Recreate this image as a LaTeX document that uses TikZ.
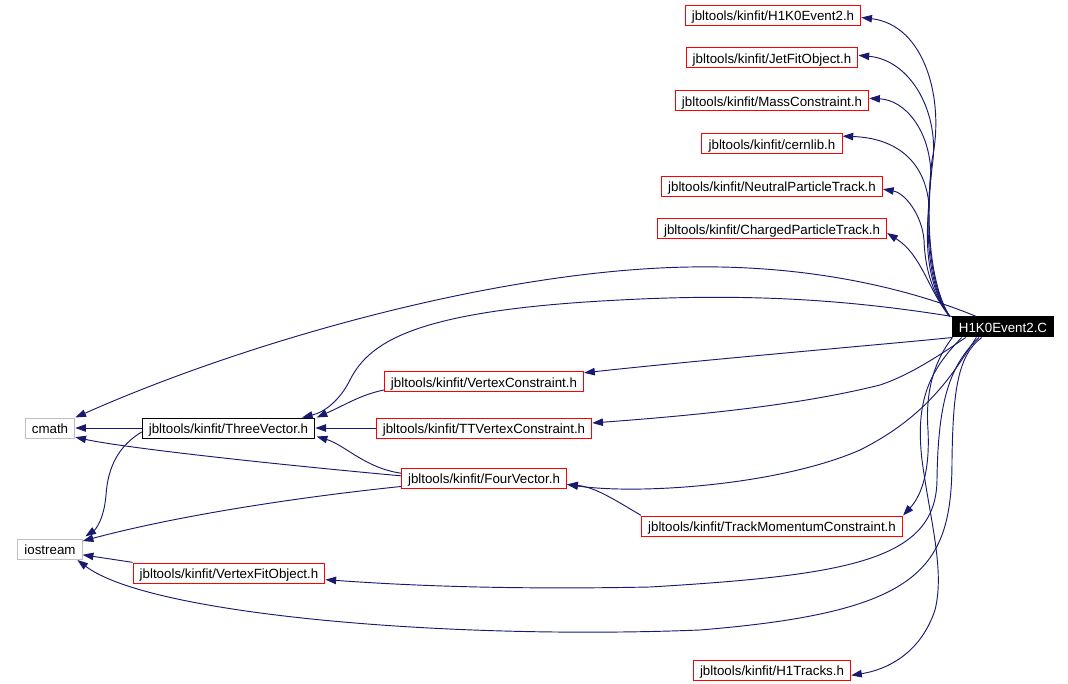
\documentclass[tikz,border=0pt]{standalone}
\usepackage{fontspec}
\setmainfont{Liberation Sans}
\usetikzlibrary{arrows.meta}
\definecolor{edgeblue}{HTML}{191970}
\definecolor{boxgray}{HTML}{BFBFBF}
\definecolor{boxred}{HTML}{FF0000}
\begin{document}
\begin{tikzpicture}[x=0.75pt,y=-0.75pt,
  base/.style={line width=0.75pt,inner xsep=5pt,inner ysep=0pt,minimum height=15pt,
    font=\fontsize{10}{12}\selectfont,text height=9.6pt,text depth=1.4pt},
  redbox/.style={base,draw=boxred},
  blackbox/.style={base,draw=black},
  graybox/.style={base,draw=boxgray},
  rootbox/.style={base,fill=black,draw=black,text=white,inner xsep=4.5pt},
  e/.style={draw=edgeblue,line width=0.7pt,-{Triangle[length=8pt,width=5.6pt]}}]
\useasboundingbox[fill=white] (0,0) rectangle (1068,684);

% nodes
\node[redbox]   (h1)      at (773,15.5)  {jbltools/kinfit/H1K0Event2.h};
\node[redbox]   (jet)     at (772,58)    {jbltools/kinfit/JetFitObject.h};
\node[redbox]   (mass)    at (772,101)   {jbltools/kinfit/MassConstraint.h};
\node[redbox]   (cern)    at (772,144)   {jbltools/kinfit/cernlib.h};
\node[redbox]   (neutral) at (772,186.5) {jbltools/kinfit/NeutralParticleTrack.h};
\node[redbox]   (charged) at (772,229)   {jbltools/kinfit/ChargedParticleTrack.h};
\node[rootbox]  (C)       at (1003,327)  {H1K0Event2.C};
\node[redbox]   (vc)      at (484,382)   {jbltools/kinfit/VertexConstraint.h};
\node[redbox]   (tt)      at (484,428)   {jbltools/kinfit/TTVertexConstraint.h};
\node[blackbox] (tv)      at (228.5,428) {jbltools/kinfit/ThreeVector.h};
\node[graybox]  (cmath)   at (50,428)    {cmath};
\node[redbox]   (fv)      at (484,478.5) {jbltools/kinfit/FourVector.h};
\node[graybox]  (iostream) at (50,549.5) {iostream};
\node[redbox]   (vfo)     at (229,573)   {jbltools/kinfit/VertexFitObject.h};
\node[redbox]   (tmc)     at (772,526)   {jbltools/kinfit/TrackMomentumConstraint.h};
\node[redbox]   (h1t)     at (772,670)   {jbltools/kinfit/H1Tracks.h};

% edges from H1K0Event2.C, upper bundle
\draw[e] ([xshift=-2pt]C.north west) .. controls (930,285) and (925,220) .. (932,160)
  .. controls (945,100) and (925,25) .. ([yshift=-1.5pt]h1.east);
\draw[e] ([xshift=-2pt]C.north west) .. controls (928,285) and (925,220) .. (933,160)
  .. controls (938,110) and (910,60) .. ([yshift=2pt]jet.east);
\draw[e] ([xshift=-2pt]C.north west) .. controls (927,285) and (925,230) .. (931,175)
  .. controls (930,130) and (905,100) .. ([yshift=2pt]mass.east);
\draw[e] ([xshift=-2pt]C.north west) .. controls (927,285) and (925,245) .. (929,205)
  .. controls (925,160) and (895,138) .. ([yshift=-2pt]cern.north east);
\draw[e] ([xshift=-2pt]C.north west) .. controls (930,290) and (925,265) .. (924,240)
  .. controls (922,215) and (905,193) .. ([yshift=-2pt]neutral.east);
\draw[e] ([xshift=-2pt]C.north west) .. controls (928,290) and (922,255) .. ([yshift=-3pt]charged.east);

% long edges to the left
\draw[e] ([xshift=18pt]C.north west) .. controls (900,285) and (800,265) .. (690,267)
  .. controls (500,270) and (250,340) .. (cmath.north east);
\draw[e] (C.north west) .. controls (850,300) and (750,293) .. (620,300)
  .. controls (420,310) and (370,340) .. (350,380)
  .. controls (340,400) and (325,412) .. ([xshift=-10pt]tv.north east);
\draw[e] (C.south west) .. controls (900,343) and (700,360) .. ([yshift=-1pt]vc.north east);
\draw[e] ([xshift=10pt]C.south west) .. controls (940,355) and (910,375) .. (880,385)
  .. controls (800,405) and (700,415) .. ([yshift=3.75pt]tt.east);
\draw[e] ([xshift=18pt]C.south west) .. controls (955,370) and (930,415) .. (860,450)
  .. controls (780,485) and (640,495) .. ([yshift=-4.5pt]fv.east);
\draw[e] (C.south west) .. controls (935,360) and (925,390) .. (928,430)
  .. controls (930,470) and (922,495) .. (tmc.north east);
\draw[e] ([xshift=20pt]C.south west) .. controls (950,365) and (938,400) .. (937,480)
  .. controls (936,560) and (850,575) .. (650,587)
  .. controls (500,590) and (400,585) .. ([yshift=-5pt]vfo.east);
\draw[e] ([xshift=22pt]C.south west) .. controls (958,355) and (953,390) .. (952,460)
  .. controls (952,570) and (920,612) .. (700,630)
  .. controls (450,640) and (150,615) .. ([xshift=-4pt]iostream.south east);
\draw[e] ([xshift=7pt]C.south west) .. controls (930,370) and (915,400) .. (922,460)
  .. controls (930,520) and (945,570) .. (935,610)
  .. controls (920,655) and (885,670) .. ([yshift=-4pt]h1t.east);

% left part
\draw[e] (tv.west) -- (cmath.east);
\draw[e] ([yshift=-3pt]tv.west) .. controls (120,445) and (108,465) .. (106,495)
  .. controls (104,520) and (95,530) .. ([xshift=2pt,yshift=2pt]iostream.north east);
\draw[e] ([yshift=-6pt]vc.west) .. controls (360,395) and (345,405) .. ([xshift=1pt]tv.north east);
\draw[e] (tt.west) -- (tv.east);
\draw[e] ([yshift=4pt]fv.west) .. controls (365,468) and (345,445) .. ([xshift=1pt,yshift=1.5pt]tv.south east);
\draw[e] ([yshift=2pt]fv.west) .. controls (250,462) and (120,447) .. ([yshift=1pt]cmath.south east);
\draw[e] ([yshift=-6pt]fv.west) .. controls (300,497) and (180,515) .. ([yshift=-1.5pt]iostream.north east);
\draw[e] ([yshift=8pt]tmc.west) .. controls (615,500) and (595,487) .. ([yshift=-4.5pt]fv.east);
\draw[e] ([yshift=8pt]vfo.west) -- ([yshift=-4pt]iostream.east);
\end{tikzpicture}
\end{document}
